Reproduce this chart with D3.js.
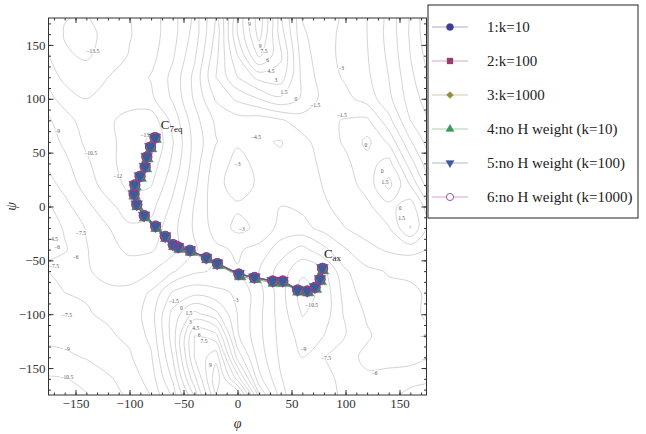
<!DOCTYPE html>
<html lang="en">
<head>
<meta charset="utf-8" />
<title>Paths on the phi/psi free energy surface</title>
<script src="https://cdn.jsdelivr.net/npm/d3@7/dist/d3.min.js"></script>
<style>
body { margin: 0; background: white; }
svg text { font-family: "Liberation Serif", "DejaVu Serif", serif; }
.contour { fill: none; stroke: #c6c6c6; stroke-width: 0.75; }
.clabel { font-size: 5.6px; fill: #555; stroke: white; stroke-width: 2.2; paint-order: stroke; text-anchor: middle; dominant-baseline: central; }
.axis text { font-size: 13px; fill: #333; font-family: "Liberation Serif", "DejaVu Serif", serif; }
.axis line { stroke: #333; }
.axis path { display: none; }
</style>
</head>
<body>
<script>
// free energy grid (rows: psi from 180 down to -180, cols: phi from -180 to 180)
var phiGrid = [-180, -160, -140, -120, -100, -80, -60, -40, -20, 0, 20, 40, 60, 80, 100, 120, 140, 160, 180];
var psiGrid = [180, 160, 140, 120, 100, 80, 60, 40, 20, 0, -20, -40, -60, -80, -100, -120, -140, -160, -180];
var energy = [
  [-12.3, -13.4, -13.6, -12.8, -12.0, -11.2, -9.8, -7.3, -3.0, 4.0, 10.0, 3.0, -1.7, -2.6, -3.2, -4.5, -6.6, -9.4, -12.3],
  [-12.0, -13.6, -14.0, -13.0, -12.1, -11.2, -9.6, -6.9, -2.6, 4.5, 9.6, 3.8, -1.2, -2.6, -3.3, -4.5, -6.5, -9.2, -12.0],
  [-11.5, -13.3, -13.7, -12.9, -11.9, -11.0, -9.2, -6.3, -2.0, 3.0, 7.8, 4.8, -0.8, -2.5, -3.4, -4.4, -6.3, -9.0, -11.5],
  [-10.8, -12.4, -12.8, -12.0, -11.3, -10.4, -8.6, -5.6, -1.5, 1.5, 3.5, 3.8, -0.4, -2.3, -3.2, -4.2, -6.0, -8.6, -10.8],
  [-9.6, -11.2, -12.0, -11.7, -11.5, -10.8, -8.8, -5.8, -2.8, -1.2, 0.0, 1.2, -0.2, -2.0, -2.6, -3.6, -5.6, -8.2, -10.0],
  [-8.5, -9.8, -11.3, -11.8, -12.4, -13.0, -10.0, -6.6, -4.2, -3.6, -3.8, -3.2, -2.2, -1.8, -1.4, -1.2, -4.0, -7.5, -9.3],
  [-8.0, -9.3, -10.8, -11.6, -12.6, -13.8, -10.6, -7.0, -4.6, -3.2, -4.3, -4.6, -3.5, -2.2, -1.3, 0.4, -1.8, -5.8, -8.6],
  [-7.4, -8.6, -10.2, -11.6, -12.6, -12.9, -10.2, -6.8, -3.8, -2.5, -3.4, -4.2, -3.8, -2.6, -1.8, -0.6, 0.6, -3.8, -7.6],
  [-6.6, -8.0, -9.6, -11.3, -12.3, -12.1, -9.4, -6.4, -3.4, -2.4, -3.2, -4.3, -3.9, -2.9, -2.1, -1.0, 2.0, -1.6, -6.0],
  [-5.4, -7.0, -8.6, -10.0, -11.4, -11.0, -8.6, -5.9, -3.6, -3.2, -3.3, -4.5, -4.2, -3.2, -2.5, -1.8, -0.5, 0.8, -3.0],
  [-4.6, -6.2, -7.6, -8.9, -10.2, -10.0, -8.0, -5.8, -3.9, -2.6, -3.3, -5.0, -5.0, -4.0, -3.0, -2.4, -1.6, 1.6, -2.5],
  [-4.4, -5.8, -7.4, -8.5, -9.3, -9.2, -8.0, -6.2, -4.8, -4.3, -5.0, -6.8, -8.0, -6.4, -4.6, -3.4, -2.8, -2.5, -3.2],
  [-7.6, -7.1, -7.4, -7.8, -8.2, -7.6, -6.2, -4.8, -4.3, -4.6, -6.0, -8.2, -10.2, -9.3, -6.2, -4.8, -4.4, -4.4, -4.0],
  [-7.7, -7.5, -7.4, -7.3, -7.1, -5.8, -2.8, -2.0, -2.6, -3.2, -5.4, -8.4, -11.2, -10.0, -6.8, -5.2, -4.8, -4.6, -4.4],
  [-8.0, -7.8, -7.6, -7.3, -7.0, -5.2, -1.0, 2.0, 0.5, -3.0, -5.6, -8.2, -10.6, -9.8, -7.2, -5.8, -5.0, -4.6, -4.4],
  [-8.7, -8.5, -8.2, -7.7, -7.2, -5.6, -0.8, 6.0, 5.0, -2.8, -5.6, -8.0, -9.6, -9.0, -7.5, -6.2, -5.3, -4.7, -4.6],
  [-9.5, -9.3, -8.9, -8.3, -7.7, -6.2, -1.5, 6.0, 8.6, -0.5, -5.2, -7.8, -9.0, -7.5, -6.6, -5.6, -5.4, -5.5, -6.0],
  [-10.8, -10.6, -10.0, -9.2, -8.4, -6.8, -2.8, 4.0, 10.0, 4.0, -4.0, -7.4, -8.8, -8.0, -7.0, -6.3, -6.6, -6.8, -7.2],
  [-12.0, -11.8, -10.8, -9.8, -8.8, -7.6, -4.5, 1.0, 8.5, 10.5, -0.5, -7.0, -9.0, -8.2, -7.2, -6.4, -7.2, -8.5, -9.0]
];
var levels = [-13.5, -12, -10.5, -9, -7.5, -6, -4.5, -3, -1.5, 0, 1.5, 3, 4.5, 6, 7.5, 9];

// contour labels: [phi, psi, text]
var contourLabels = [
  [-134, 144, "-13.5"], [-167, 70, "-9"], [-136, 49.5, "-10.5"], [-111, 28, "-12"], [-84, 66, "-13.5"],
  [11, 169, "9"], [21, 149, "9"], [24.5, 144, "7.5"], [28, 136, "6"], [31, 125.5, "4.5"], [35.6, 117, "3"],
  [43, 106, "1.5"], [54, 99.5, "0"], [72, 94.6, "-1.5"], [96, 129, "-3"], [96.5, 84.7, "-1.5"],
  [17, 64.6, "-4.5"], [0, 39, "-3"], [119, 57, "0"], [134, 33, "0"], [136.6, 22.4, "1.5"],
  [150.5, -1, "0"], [152, -11, "1.5"], [-145, -25, "-7.5"], [-171, -30, "-4.5"], [-167, -38, "-6"],
  [-170, -55, "-7.5"], [-150, -47, "-6"], [-158, -101, "-7.5"], [-158, -132, "-9"], [-158, -158, "-10.5"],
  [-59, -88, "-1.5"], [-52, -94, "0"], [-45, -99, "1.5"], [-43.7, -107, "3"], [-38.7, -113, "4.5"],
  [-35.6, -119, "6"], [-31, -124.5, "7.5"], [-25, -147, "9"], [4, -21, "-3"], [-1.7, -86.6, "-3"],
  [68.7, -91, "-10.5"], [61, -132, "-9"], [82, -140.6, "-7.5"], [127, -155, "-6"], [173.6, -120, "-4.5"],
  [173.6, -142, "-6"]
];

// path points for each run
var phi1 = [-76.4, -80.6, -84.0, -85.6, -90.3, -95.1, -95.8, -93.3, -86.4, -75.9, -66.9, -59.7, -54.9, -44.0, -28.9, -18.7, 1.2, 15.7, 32.6, 41.9, 55.6, 64.6, 71.8, 76.4, 78.7];
var psi1 = [64.1, 55.4, 46.1, 36.9, 28.2, 20.2, 11.6, 2.0, -8.3, -18.1, -27.6, -35.2, -37.5, -40.5, -47.5, -52.8, -62.5, -65.7, -69.0, -69.0, -77.3, -78.2, -74.8, -67.3, -57.2];
var phi2 = [-76.0, -80.3, -83.8, -85.2, -90.0, -94.8, -95.6, -93.0, -86.0, -75.5, -66.4, -59.0, -54.3, -43.6, -28.5, -18.3, 1.5, 16.0, 33.0, 42.3, 56.0, 65.0, 72.0, 76.6, 78.9];
var psi2 = [63.6, 54.9, 45.6, 36.4, 27.6, 19.6, 11.0, 1.3, -9.0, -18.8, -28.3, -36.2, -38.4, -41.2, -48.0, -53.3, -63.2, -66.2, -69.6, -69.6, -77.9, -78.8, -75.4, -67.9, -57.8];
var phi3 = [-76.2, -80.5, -83.9, -85.4, -90.1, -95.0, -95.7, -93.1, -86.2, -75.7, -66.6, -59.3, -54.6, -43.8, -28.7, -18.5, 1.4, 15.8, 32.8, 42.1, 55.8, 64.8, 71.9, 76.5, 78.8];
var psi3 = [63.8, 55.1, 45.8, 36.6, 27.9, 19.9, 11.3, 1.6, -8.7, -18.5, -28.0, -35.7, -38.0, -40.9, -47.8, -53.0, -62.9, -66.0, -69.3, -69.3, -77.6, -78.5, -75.1, -67.6, -57.5];
var phi4 = [-75.8, -80.0, -83.4, -84.8, -89.6, -94.4, -95.2, -92.6, -85.6, -75.0, -66.0, -58.6, -53.8, -43.0, -28.0, -17.8, 2.5, 16.6, 33.6, 42.8, 56.4, 65.4, 72.6, 77.2, 79.2];
var psi4 = [62.6, 53.8, 44.4, 35.2, 26.4, 18.4, 9.8, 0.0, -10.4, -20.2, -29.6, -37.0, -39.6, -42.4, -49.2, -54.6, -65.0, -67.6, -71.0, -71.0, -79.2, -80.0, -76.8, -69.6, -59.6];
var phi5 = [-76.5, -80.7, -84.1, -85.7, -90.4, -95.2, -95.9, -93.4, -86.5, -76.0, -67.0, -59.8, -55.0, -44.1, -29.0, -18.8, 1.1, 15.6, 32.5, 41.8, 55.5, 64.5, 71.7, 76.3, 78.6];
var psi5 = [64.2, 55.5, 46.2, 37.0, 28.3, 20.3, 11.7, 2.1, -8.2, -18.0, -27.5, -35.1, -37.4, -40.4, -47.4, -52.7, -62.4, -65.6, -68.9, -68.9, -77.2, -78.1, -74.7, -67.2, -57.1];
var phi6 = [-76.3, -80.5, -83.9, -85.5, -90.2, -95.0, -95.7, -93.2, -86.3, -75.8, -66.8, -59.5, -54.7, -43.9, -28.8, -18.6, 1.3, 15.8, 32.7, 42.0, 55.7, 64.7, 71.9, 76.5, 78.8];
var psi6 = [64.0, 55.2, 45.9, 36.7, 28.0, 20.0, 11.4, 1.8, -8.5, -18.3, -27.8, -35.5, -37.8, -40.8, -47.7, -53.0, -62.8, -66.0, -69.3, -69.3, -77.6, -78.5, -75.1, -67.6, -57.5];

var seriesNames = ["1:k=10", "2:k=100", "3:k=1000", "4:no H weight (k=10)", "5:no H weight (k=100)", "6:no H weight (k=1000)"];
var seriesColors = ["#3f3d99", "#993d71", "#998b3d", "#3d9956", "#3d5a99", "#993d90"];
var seriesPhi = [phi1, phi2, phi3, phi4, phi5, phi6];
var seriesPsi = [psi1, psi2, psi3, psi4, psi5, psi6];

var majorTicks = [-150, -100, -50, 0, 50, 100, 150];
var minorTicks = d3.range(-170, 171, 10);

// state labels: [phi, psi, main, subscript]
var stateLabels = [[-71, 71.5, "C", "7eq"], [80, -48, "C", "ax"]];

var w = 646, h = 434;
var box = { left: 48.5, right: 426.5, top: 18, bottom: 395 };
var serif = "'Liberation Serif', 'DejaVu Serif', serif";

var svg = d3.select("body").append("svg")
    .attr("width", w)
    .attr("height", h)
    .attr("font-family", serif);

var x = d3.scaleLinear().domain([-175, 175]).range([box.left, box.right]);
var y = d3.scaleLinear().domain([-175, 175]).range([box.bottom, box.top]);

svg.append("clipPath").attr("id", "plotclip")
  .append("rect")
    .attr("x", box.left).attr("y", box.top)
    .attr("width", box.right - box.left).attr("height", box.bottom - box.top);

var plot = svg.append("g").attr("clip-path", "url(#plotclip)");

// contours
var values = [];
energy.forEach(function(row) { row.forEach(function(v) { values.push(v); }); });
var stepPhi = phiGrid[1] - phiGrid[0];
var stepPsi = psiGrid[1] - psiGrid[0];
var contours = d3.contours()
    .size([phiGrid.length, psiGrid.length])
    .thresholds(levels)(values);

var ringLine = d3.line()
    .x(function(p) { return x(phiGrid[0] + (p[0] - 0.5) * stepPhi); })
    .y(function(p) { return y(psiGrid[0] + (p[1] - 0.5) * stepPsi); })
    .curve(d3.curveCatmullRomClosed.alpha(0.5));

var rings = [];
contours.forEach(function(c) {
  c.coordinates.forEach(function(poly) {
    poly.forEach(function(ring) { rings.push(ring.slice(0, -1)); });
  });
});
plot.append("g").selectAll("path")
    .data(rings)
  .enter().append("path")
    .attr("class", "contour")
    .attr("d", ringLine);

plot.append("g").selectAll("text")
    .data(contourLabels)
  .enter().append("text")
    .attr("class", "clabel")
    .attr("x", function(d) { return x(d[0]); })
    .attr("y", function(d) { return y(d[1]); })
    .text(function(d) { return d[2].replace("-", "\u2212"); });

// markers
var shapes = [
  { type: d3.symbolCircle, size: 80, rotate: 0, open: false },
  { type: d3.symbolSquare, size: 72, rotate: 0, open: false },
  { type: d3.symbolSquare, size: 50, rotate: 45, open: false },
  { type: d3.symbolTriangle, size: 60, rotate: 0, open: false },
  { type: d3.symbolTriangle, size: 60, rotate: 180, open: false },
  { type: d3.symbolCircle, size: 80, rotate: 0, open: true }
];

var pathLine = d3.line()
    .x(function(d) { return x(d[0]); })
    .y(function(d) { return y(d[1]); });

seriesNames.forEach(function(name, i) {
  var pts = seriesPhi[i].map(function(p, j) { return [p, seriesPsi[i][j]]; });
  plot.append("path")
      .attr("d", pathLine(pts))
      .attr("fill", "none")
      .attr("stroke", seriesColors[i])
      .attr("stroke-opacity", 0.7)
      .attr("stroke-width", 1.1);
});

seriesNames.forEach(function(name, i) {
  var pts = seriesPhi[i].map(function(p, j) { return [p, seriesPsi[i][j]]; });
  var s = shapes[i];
  plot.append("g").selectAll("path")
      .data(pts)
    .enter().append("path")
      .attr("d", d3.symbol().type(s.type).size(s.size))
      .attr("transform", function(d) { return "translate(" + x(d[0]) + "," + y(d[1]) + ") rotate(" + s.rotate + ")"; })
      .attr("fill", s.open ? "none" : seriesColors[i])
      .attr("stroke", seriesColors[i])
      .attr("stroke-width", s.open ? 1.1 : 0.4);
});

// state labels
stateLabels.forEach(function(d) {
  var t = svg.append("text")
      .attr("x", x(d[0]))
      .attr("y", y(d[1]))
      .attr("font-size", 13)
      .attr("fill", "#222");
  t.append("tspan").text(d[2]);
  t.append("tspan").attr("font-size", 9).attr("dy", 3).text(d[3]);
});

// frame and ticks
svg.append("rect")
    .attr("x", box.left).attr("y", box.top)
    .attr("width", box.right - box.left).attr("height", box.bottom - box.top)
    .attr("fill", "none")
    .attr("stroke", "#333")
    .attr("stroke-width", 1);

function addAxis(axis, tx, ty) {
  svg.append("g").attr("class", "axis")
      .attr("transform", "translate(" + tx + "," + ty + ")")
      .call(axis)
      .attr("font-family", serif);
}
addAxis(d3.axisBottom(x).tickValues(majorTicks).tickSize(-5).tickPadding(4), 0, box.bottom);
addAxis(d3.axisBottom(x).tickValues(minorTicks).tickSize(-2.5).tickFormat(""), 0, box.bottom);
addAxis(d3.axisTop(x).tickValues(majorTicks).tickSize(-5).tickFormat(""), 0, box.top);
addAxis(d3.axisTop(x).tickValues(minorTicks).tickSize(-2.5).tickFormat(""), 0, box.top);
addAxis(d3.axisLeft(y).tickValues(majorTicks).tickSize(-5).tickPadding(3), box.left, 0);
addAxis(d3.axisLeft(y).tickValues(minorTicks).tickSize(-2.5).tickFormat(""), box.left, 0);
addAxis(d3.axisRight(y).tickValues(majorTicks).tickSize(-5).tickFormat(""), box.right, 0);
addAxis(d3.axisRight(y).tickValues(minorTicks).tickSize(-2.5).tickFormat(""), box.right, 0);

// axis titles
svg.append("text")
    .attr("x", x(0)).attr("y", 428)
    .attr("text-anchor", "middle")
    .attr("font-size", 14)
    .attr("font-style", "italic")
    .attr("fill", "#333")
    .text("\u03c6");
svg.append("text")
    .attr("transform", "translate(16," + y(0) + ") rotate(-90)")
    .attr("text-anchor", "middle")
    .attr("font-size", 14)
    .attr("font-style", "italic")
    .attr("fill", "#333")
    .text("\u03c8");

// legend
var legend = svg.append("g").attr("transform", "translate(428,5)");
legend.append("rect")
    .attr("width", 210).attr("height", 213)
    .attr("fill", "white")
    .attr("stroke", "#222")
    .attr("stroke-width", 1);

seriesNames.forEach(function(name, i) {
  var row = legend.append("g").attr("transform", "translate(0," + (22 + i * 34) + ")");
  var s = shapes[i];
  row.append("line")
      .attr("x1", 4).attr("x2", 40)
      .attr("stroke", seriesColors[i])
      .attr("stroke-opacity", 0.45)
      .attr("stroke-width", 1);
  row.append("path")
      .attr("d", d3.symbol().type(s.type).size(s.size * 0.5))
      .attr("transform", "translate(22,0) rotate(" + s.rotate + ")")
      .attr("fill", s.open ? "white" : seriesColors[i])
      .attr("stroke", seriesColors[i])
      .attr("stroke-width", s.open ? 0.9 : 0.3);
  row.append("text")
      .attr("x", 59)
      .attr("dy", "0.33em")
      .attr("font-size", 15)
      .attr("fill", "#222")
      .text(name);
});
</script>
</body>
</html>
